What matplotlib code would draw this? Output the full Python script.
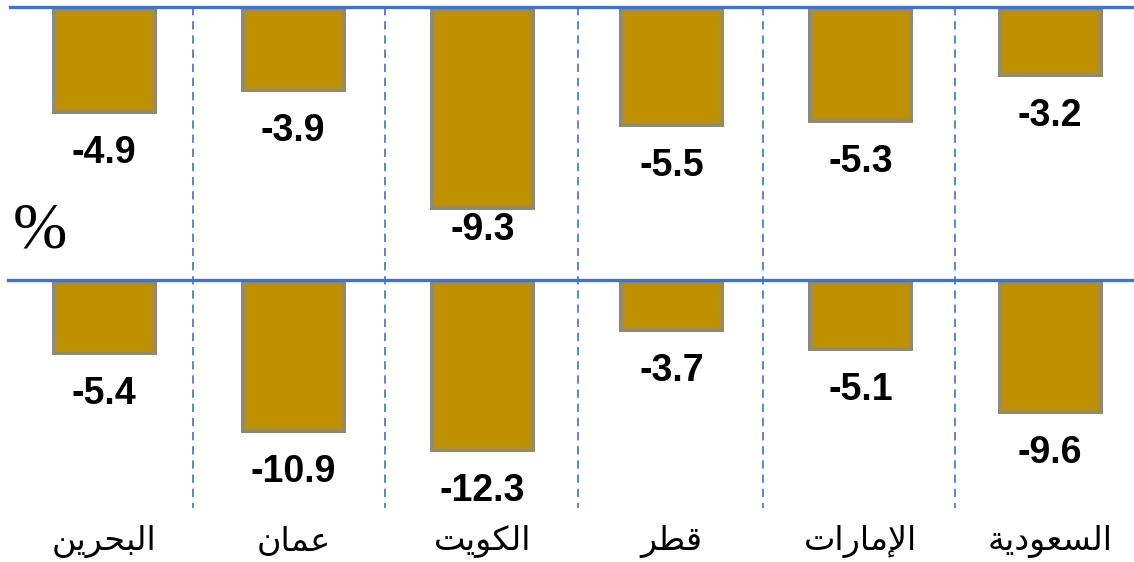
import numpy as np
import matplotlib
matplotlib.use('Agg')
import matplotlib.pyplot as plt

countries = ['البحرين', 'عمان', 'الكويت', 'قطر', 'الإمارات', 'السعودية']
topValues = [-4.9, -3.9, -9.3, -5.5, -5.3, -3.2]
bottomValues = [-5.4, -10.9, -12.3, -3.7, -5.1, -9.6]

# Arabic presentation forms: isolated, final, initial, medial
FORMS = {
    'ا': ('\ufe8d', '\ufe8e'),
    'إ': ('\ufe87', '\ufe88'),
    'ب': ('\ufe8f', '\ufe90', '\ufe91', '\ufe92'),
    'ة': ('\ufe93', '\ufe94'),
    'ت': ('\ufe95', '\ufe96', '\ufe97', '\ufe98'),
    'ح': ('\ufea1', '\ufea2', '\ufea3', '\ufea4'),
    'د': ('\ufea9', '\ufeaa'),
    'ر': ('\ufead', '\ufeae'),
    'س': ('\ufeb1', '\ufeb2', '\ufeb3', '\ufeb4'),
    'ط': ('\ufec1', '\ufec2', '\ufec3', '\ufec4'),
    'ع': ('\ufec9', '\ufeca', '\ufecb', '\ufecc'),
    'ق': ('\ufed5', '\ufed6', '\ufed7', '\ufed8'),
    'ك': ('\ufed9', '\ufeda', '\ufedb', '\ufedc'),
    'ل': ('\ufedd', '\ufede', '\ufedf', '\ufee0'),
    'م': ('\ufee1', '\ufee2', '\ufee3', '\ufee4'),
    'ن': ('\ufee5', '\ufee6', '\ufee7', '\ufee8'),
    'و': ('\ufeed', '\ufeee'),
    'ي': ('\ufef1', '\ufef2', '\ufef3', '\ufef4'),
    'لا': ('\ufefb', '\ufefc'),
    'لإ': ('\ufef9', '\ufefa'),
}


def shape(word):
    tokens = []
    i = 0
    while i < len(word):
        if word[i:i+2] in FORMS and len(word[i:i+2]) == 2:
            tokens.append(word[i:i+2])
            i += 2
        else:
            tokens.append(word[i])
            i += 1
    out = []
    for j, t in enumerate(tokens):
        f = FORMS[t]
        prev = j > 0 and len(FORMS[tokens[j-1]]) == 4
        nxt = len(f) == 4 and j + 1 < len(tokens)
        if prev and nxt:
            out.append(f[3])
        elif prev:
            out.append(f[1])
        elif nxt:
            out.append(f[2])
        else:
            out.append(f[0])
    return ''.join(reversed(out))


W, H = 1134, 562
fig = plt.figure(figsize=(W/100, H/100), dpi=100)

x = np.arange(len(countries))
px = 189.2  # pixels per category
xl = (-104/px, 5 + 84/px)
barW = 105/px
gold = '#BF9000'
lineBlue = '#4472C4'

# top panel: zero at 7px from top, 21.8 px per unit
axT = fig.add_axes([0, 0, 1, 1])
sT = 21.8
axT.set_ylim(7/sT - H/sT, 7/sT)
# bottom panel: zero at 279.5px from top, 14.06 px per unit
axB = fig.add_axes([0, 0, 1, 1])
sB = 14.06
axB.set_ylim(279.5/sB - H/sB, 279.5/sB)

for ax in (axT, axB):
    ax.set_xlim(*xl)
    ax.axis('off')
    ax.patch.set_alpha(0)

# soft glowing edge: stacked bars shrinking towards the gold core
glowSteps = [(0, '#8A8A7C'), (1.5, '#988B60'), (3, '#A98D3E'), (4.5, '#B78F1C'), (6, gold)]
for ax, vals, s in ((axT, topValues, sT), (axB, bottomValues, sB)):
    vals = np.array(vals)
    for k, (ins, col) in enumerate(glowSteps):
        ax.bar(x, vals + 2*ins/s, bottom=-ins/s, width=barW - 2*ins/px,
               color=col, zorder=2 + k*0.1)
    for xi, v in zip(x, vals):
        y = v - 39/s
        if ax is axT:
            y = max(y, -(230 - 7)/s)
        ax.text(xi, y, f'{v:.1f}', ha='center', va='center', fontsize=27,
                fontweight='bold', family='Liberation Sans', zorder=5)

# horizontal baselines
axT.plot([xl[0] + 10/px, xl[1]], [0, 0], color=lineBlue, lw=2.4, zorder=4)
axB.plot([xl[0] + 8/px, xl[1]], [0, 0], color=lineBlue, lw=2.4, zorder=4)

# vertical dashed dividers
for d in [193, 385, 578, 763, 955]:
    xd = xl[0] + d/px
    axT.plot([xd, xd], [0, -(508 - 7)/sT], color=lineBlue, lw=1.2,
             ls=(0, (5, 3.5)), zorder=1)

for xi, c in zip(x, countries):
    axB.text(xi, -(541 - 279.5)/sB, shape(c), ha='center', va='center',
             fontsize=24, family='DejaVu Sans')

axT.text(xl[0] + 40/px, -(232 - 7)/sT, '%', ha='center', va='center',
         fontsize=47, family='Liberation Serif')

fig.savefig('out.png', dpi=100)
